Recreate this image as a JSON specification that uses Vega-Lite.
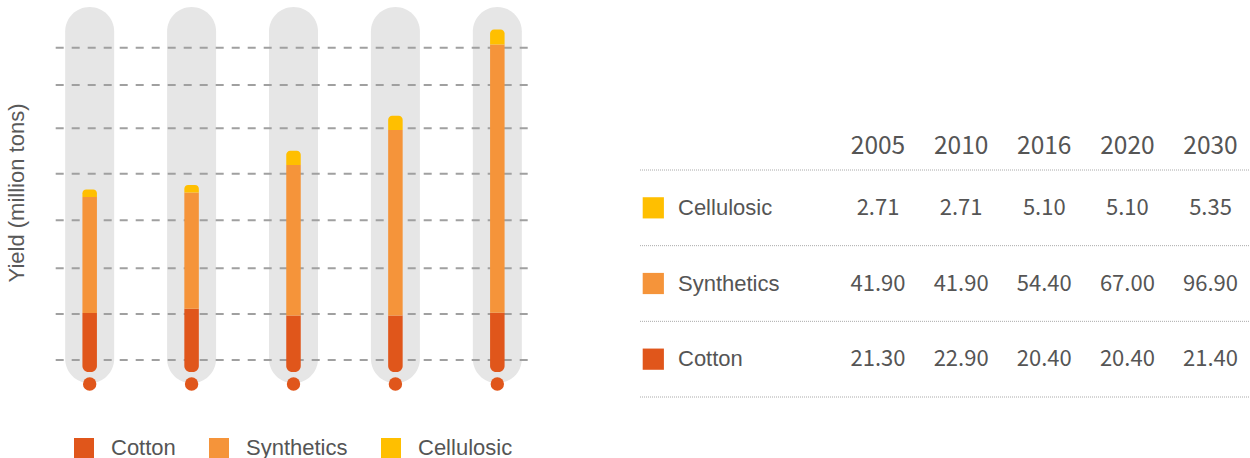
{
  "$schema": "https://vega.github.io/schema/vega-lite/v6.json",
  "padding": {"left": 5, "top": 7, "right": 0, "bottom": 0},
  "spacing": 105,
  "datasets": {
    "yields": [
      {"year": "2005", "type": "Cotton", "value": 21.3},
      {"year": "2005", "type": "Synthetics", "value": 41.9},
      {"year": "2005", "type": "Cellulosic", "value": 2.71},
      {"year": "2010", "type": "Cotton", "value": 22.9},
      {"year": "2010", "type": "Synthetics", "value": 41.9},
      {"year": "2010", "type": "Cellulosic", "value": 2.71},
      {"year": "2016", "type": "Cotton", "value": 20.4},
      {"year": "2016", "type": "Synthetics", "value": 54.4},
      {"year": "2016", "type": "Cellulosic", "value": 5.1},
      {"year": "2020", "type": "Cotton", "value": 20.4},
      {"year": "2020", "type": "Synthetics", "value": 67.0},
      {"year": "2020", "type": "Cellulosic", "value": 5.1},
      {"year": "2030", "type": "Cotton", "value": 21.4},
      {"year": "2030", "type": "Synthetics", "value": 96.9},
      {"year": "2030", "type": "Cellulosic", "value": 5.35}
    ],
    "grid": [
      {"level": 4.33}, {"level": 20.94}, {"level": 37.44}, {"level": 54.77},
      {"level": 71.6}, {"level": 87.98}, {"level": 103.6}, {"level": 117.1}
    ]
  },
  "hconcat": [
    {
      "width": 479,
      "height": 385,
      "data": {"name": "yields"},
      "layer": [
        {
          "transform": [{"filter": {"field": "type", "equal": "Cotton"}}],
          "mark": {"type": "bar", "color": "#E6E6E6", "size": 49, "cornerRadius": 24.5},
          "encoding": {
            "x": {"field": "year", "type": "nominal", "axis": null, "scale": {"type": "point", "padding": 0.35}},
            "y": {"datum": 131.8, "type": "quantitative", "title": "Yield (million tons)", "scale": {"domain": [-7.2, 131.8], "nice": false, "zero": false}, "axis": {"titleY": 185.5}},
            "y2": {"datum": -4}
          }
        },
        {
          "data": {"name": "grid"},
          "mark": {"type": "rule", "color": "#A0A0A0", "strokeWidth": 2, "strokeDash": [8, 8], "strokeDashOffset": 10.7},
          "encoding": {
            "y": {"field": "level", "type": "quantitative", "title": "Yield (million tons)"}
          }
        },
        {
          "transform": [
            {"stack": "value", "groupby": ["year"], "as": ["y0", "y1"]},
            {"filter": {"field": "type", "equal": "Cotton"}}
          ],
          "mark": {"type": "bar", "size": 14.5, "cornerRadiusBottomLeft": 6, "cornerRadiusBottomRight": 6},
          "encoding": {
            "x": {"field": "year", "type": "nominal", "axis": null},
            "y": {"field": "y1", "type": "quantitative", "title": "Yield (million tons)"},
            "y2": {"field": "y0"},
            "color": {
              "field": "type", "type": "nominal",
              "scale": {"domain": ["Cotton", "Synthetics", "Cellulosic"], "range": ["#E0561B", "#F5943A", "#FFBF00"]},
              "legend": {"orient": "none", "legendX": 19, "legendY": 430, "direction": "horizontal", "title": null, "symbolType": "square", "symbolSize": 400, "symbolStrokeWidth": 0, "symbolOpacity": 1, "labelFont": "Liberation Sans", "labelFontSize": 22, "labelColor": "#555555", "labelOffset": 16, "columnPadding": 32}
            }
          }
        },
        {
          "transform": [
            {"stack": "value", "groupby": ["year"], "as": ["y0", "y1"]},
            {"filter": {"field": "type", "equal": "Synthetics"}}
          ],
          "mark": {"type": "bar", "size": 14.5},
          "encoding": {
            "x": {"field": "year", "type": "nominal", "axis": null},
            "y": {"field": "y1", "type": "quantitative", "title": "Yield (million tons)"},
            "y2": {"field": "y0"},
            "color": {"field": "type", "type": "nominal"}
          }
        },
        {
          "transform": [
            {"stack": "value", "groupby": ["year"], "as": ["y0", "y1"]},
            {"filter": {"field": "type", "equal": "Cellulosic"}}
          ],
          "mark": {"type": "bar", "size": 14.5, "cornerRadiusTopLeft": 4, "cornerRadiusTopRight": 4},
          "encoding": {
            "x": {"field": "year", "type": "nominal", "axis": null},
            "y": {"field": "y1", "type": "quantitative", "title": "Yield (million tons)"},
            "y2": {"field": "y0"},
            "color": {"field": "type", "type": "nominal"}
          }
        },
        {
          "transform": [{"filter": {"field": "type", "equal": "Cotton"}}],
          "mark": {"type": "point", "shape": "circle", "filled": true, "size": 180, "color": "#E0561B", "opacity": 1},
          "encoding": {
            "x": {"field": "year", "type": "nominal", "axis": null},
            "y": {"datum": -4.33, "type": "quantitative", "title": "Yield (million tons)"}
          }
        }
      ]
    },
    {
      "width": 609,
      "height": 390,
      "data": {"name": "yields"},
      "layer": [
        {
          "transform": [{"filter": {"field": "year", "equal": "2005"}}],
          "mark": {"type": "rule", "color": "#AAAAAA", "strokeWidth": 1, "strokeDash": [1, 1]},
          "encoding": {
            "y": {"field": "type", "type": "nominal", "bandPosition": 0, "axis": null,
                  "scale": {"type": "band", "domain": ["Cellulosic", "Synthetics", "Cotton"], "range": [163, 390], "paddingInner": 0, "paddingOuter": 0}}
          }
        },
        {
          "transform": [{"filter": {"and": [{"field": "year", "equal": "2005"}, {"field": "type", "equal": "Cotton"}]}}],
          "mark": {"type": "rule", "color": "#AAAAAA", "strokeWidth": 1, "strokeDash": [1, 1]},
          "encoding": {
            "y": {"datum": "Cotton", "type": "nominal", "bandPosition": 1}
          }
        },
        {
          "transform": [{"filter": {"field": "type", "equal": "Cotton"}}],
          "mark": {"type": "text", "font": "Noto Sans CJK SC", "fontSize": 24.5, "color": "#555555", "baseline": "middle", "yOffset": -23.5},
          "encoding": {
            "x": {"field": "year", "type": "nominal", "axis": null, "scale": {"type": "point", "domain": ["2005", "2010", "2016", "2020", "2030"], "range": [238, 570.5], "padding": 0}},
            "y": {"datum": "Cellulosic", "type": "nominal", "bandPosition": 0},
            "text": {"field": "year"}
          }
        },
        {
          "mark": {"type": "text", "font": "Noto Sans CJK SC", "fontSize": 22, "color": "#555555", "baseline": "middle"},
          "encoding": {
            "x": {"field": "year", "type": "nominal"},
            "y": {"field": "type", "type": "nominal"},
            "text": {"field": "value", "type": "quantitative", "format": ".2f"}
          }
        },
        {
          "transform": [{"filter": {"field": "year", "equal": "2005"}}],
          "mark": {"type": "point", "shape": "square", "filled": true, "size": 450, "opacity": 1, "xOffset": -224.7},
          "encoding": {
            "x": {"datum": "2005", "type": "nominal"},
            "y": {"field": "type", "type": "nominal"},
            "color": {"field": "type", "type": "nominal", "legend": null,
                      "scale": {"domain": ["Cotton", "Synthetics", "Cellulosic"], "range": ["#E0561B", "#F5943A", "#FFBF00"]}}
          }
        },
        {
          "transform": [{"filter": {"field": "year", "equal": "2005"}}],
          "mark": {"type": "text", "font": "Liberation Sans", "fontSize": 22, "color": "#555555", "align": "left", "baseline": "middle", "dx": -200},
          "encoding": {
            "x": {"datum": "2005", "type": "nominal"},
            "y": {"field": "type", "type": "nominal"},
            "text": {"field": "type"}
          }
        }
      ]
    }
  ],
  "resolve": {"scale": {"color": "independent"}, "legend": {"color": "independent"}},
  "config": {
    "view": {"stroke": null},
    "font": "Liberation Sans",
    "axisY": {"labels": false, "ticks": false, "domain": false, "grid": false, "titleFont": "Liberation Sans", "titleFontSize": 22, "titleFontWeight": "normal", "titleColor": "#595959", "titlePadding": 26}
  }
}
